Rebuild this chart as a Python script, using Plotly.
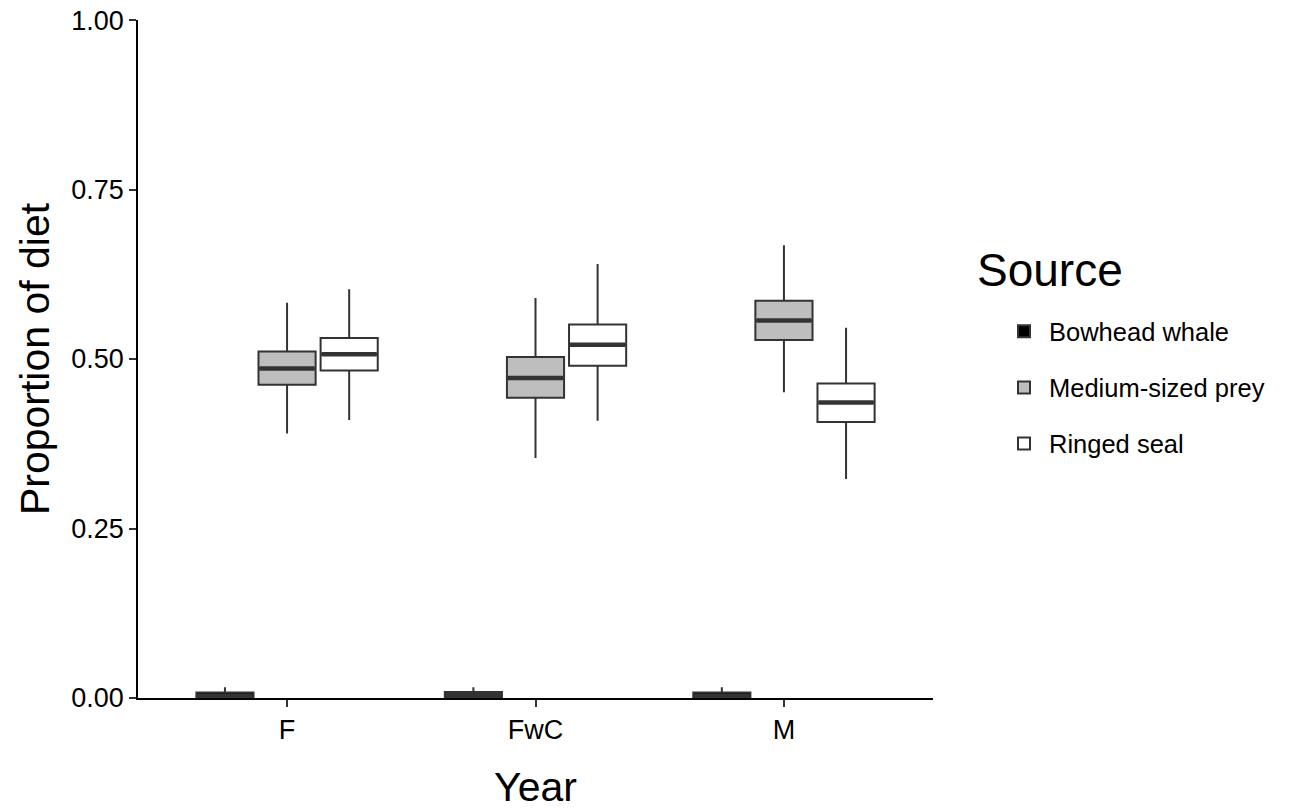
import plotly.graph_objects as go

years = ["F", "FwC", "M"]
sources = ["Bowhead whale", "Medium-sized prey", "Ringed seal"]

# per source: values for F, FwC, M
lower = {
    "Bowhead whale": [0.0, 0.0, 0.0],
    "Medium-sized prey": [0.390, 0.354, 0.451],
    "Ringed seal": [0.410, 0.409, 0.323],
}
q1 = {
    "Bowhead whale": [0.0, 0.0, 0.0],
    "Medium-sized prey": [0.462, 0.443, 0.528],
    "Ringed seal": [0.483, 0.490, 0.407],
}
median = {
    "Bowhead whale": [0.003, 0.004, 0.003],
    "Medium-sized prey": [0.486, 0.472, 0.557],
    "Ringed seal": [0.507, 0.521, 0.436],
}
q3 = {
    "Bowhead whale": [0.008, 0.009, 0.008],
    "Medium-sized prey": [0.511, 0.503, 0.586],
    "Ringed seal": [0.531, 0.551, 0.464],
}
upper = {
    "Bowhead whale": [0.016, 0.016, 0.016],
    "Medium-sized prey": [0.583, 0.590, 0.668],
    "Ringed seal": [0.603, 0.640, 0.546],
}

fills = {"Bowhead whale": "#000000", "Medium-sized prey": "#BEBEBE", "Ringed seal": "#FFFFFF"}
offsets = {"Bowhead whale": -0.25, "Medium-sized prey": 0.0, "Ringed seal": 0.25}
box_w = 0.23
line_col = "#333333"
FONT = "Liberation Sans, Arial, sans-serif"

fig = go.Figure()
for s in sources:
    xs = [i + offsets[s] for i in range(len(years))]
    fig.add_trace(go.Box(
        name=s, x=xs, q1=q1[s], median=median[s], q3=q3[s],
        lowerfence=lower[s], upperfence=upper[s],
        width=box_w, whiskerwidth=0, legendgroup=s,
        fillcolor=fills[s], line=dict(color=line_col, width=2),
        boxpoints=False, hoverinfo="y", showlegend=True,
    ))
    # thicker median segments (ggplot style)
    mx, my = [], []
    for xi, m in zip(xs, median[s]):
        mx += [xi - box_w / 2 + 0.004, xi + box_w / 2 - 0.004, None]
        my += [m, m, None]
    fig.add_trace(go.Scatter(x=mx, y=my, mode="lines", legendgroup=s,
                             line=dict(color=line_col, width=4.5),
                             showlegend=False, hoverinfo="skip"))

fig.update_layout(
    width=1304, height=810,
    margin=dict(l=138, r=371, t=20, b=112),
    paper_bgcolor="white", plot_bgcolor="white",
    font=dict(family=FONT, color="black"),
    boxmode="overlay",
    legend=dict(
        font=dict(size=25.5, family=FONT),
        x=1.083, xanchor="left", y=0.575, yanchor="top",
        tracegroupgap=20, itemwidth=40,
    ),
    annotations=[dict(
        text="Source", x=1.053, xref="paper", xanchor="left",
        y=0.631, yref="paper", yanchor="middle", showarrow=False,
        font=dict(size=46, family=FONT, color="black"),
    )],
)
fig.update_xaxes(
    range=[-0.6, 2.6], tickmode="array", tickvals=[0, 1, 2], ticktext=years,
    showgrid=False, zeroline=False, showline=True, linecolor="black", linewidth=1.5,
    ticks="outside", ticklen=7, tickwidth=1.5, tickcolor=line_col, automargin=False,
    tickfont=dict(size=27, family=FONT, color="black"),
    title=dict(text="Year", font=dict(size=41, family=FONT), standoff=28),
)
fig.update_yaxes(
    range=[0, 1.0001], tickmode="array", tickvals=[0, 0.25, 0.5, 0.75, 1.0],
    ticktext=["0.00", "0.25", "0.50", "0.75", "1.00"],
    showgrid=False, zeroline=False, showline=True, linecolor="black", linewidth=1.5,
    ticks="outside", ticklen=7, tickwidth=1.5, tickcolor=line_col, automargin=False,
    ticklabeloverflow="allow",
    tickfont=dict(size=27, family=FONT, color="black"),
    title=dict(text="Proportion of diet", font=dict(size=41, family=FONT), standoff=9),
)
fig.write_html("out.html", config={"displayModeBar": False},
               post_script="document.body.style.margin='0';")
